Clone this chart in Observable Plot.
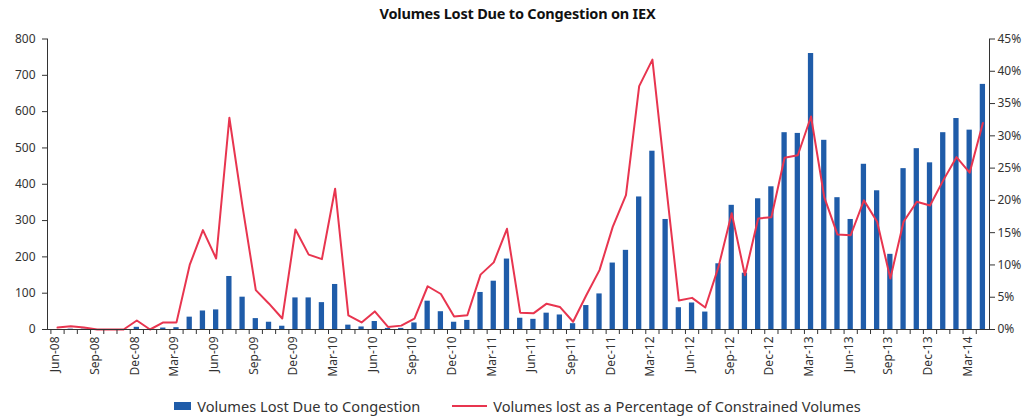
<!DOCTYPE html>
<html><head><meta charset="utf-8">
<script src="https://cdn.jsdelivr.net/npm/d3@7"></script>
<script src="https://cdn.jsdelivr.net/npm/@observablehq/plot@0.6"></script>
<style>
body{margin:0;background:#fff;font-family:"Noto Sans",sans-serif;}
#wrap{width:1035px;height:417px;position:relative;overflow:hidden;}
#title{height:26px;line-height:26px;text-align:center;font-weight:bold;font-size:14.5px;color:#111;letter-spacing:-0.2px;}
#legend{position:absolute;top:396px;left:0;width:1035px;display:flex;justify-content:center;align-items:center;font-size:14.6px;color:#333;white-space:nowrap;}
.sw{display:inline-block;margin-right:6px;}
</style></head>
<body>
<div id="wrap">
<div id="title">Volumes Lost Due to Congestion on IEX</div>
<div id="chart"></div>
<div id="legend">
<span class="sw" style="width:17px;height:8px;background:#1f5ca9"></span><span>Volumes Lost Due to Congestion</span>
<span class="sw" style="width:35px;height:2px;background:#e8354f;margin-left:32px"></span><span>Volumes lost as a Percentage of Constrained Volumes</span>
</div>
</div>
<script>
const months = ["Jun-08","Jul-08","Aug-08","Sep-08","Oct-08","Nov-08","Dec-08",
"Jan-09","Feb-09","Mar-09","Apr-09","May-09","Jun-09","Jul-09","Aug-09","Sep-09","Oct-09","Nov-09","Dec-09",
"Jan-10","Feb-10","Mar-10","Apr-10","May-10","Jun-10","Jul-10","Aug-10","Sep-10","Oct-10","Nov-10","Dec-10",
"Jan-11","Feb-11","Mar-11","Apr-11","May-11","Jun-11","Jul-11","Aug-11","Sep-11","Oct-11","Nov-11","Dec-11",
"Jan-12","Feb-12","Mar-12","Apr-12","May-12","Jun-12","Jul-12","Aug-12","Sep-12","Oct-12","Nov-12","Dec-12",
"Jan-13","Feb-13","Mar-13","Apr-13","May-13","Jun-13","Jul-13","Aug-13","Sep-13","Oct-13","Nov-13","Dec-13",
"Jan-14","Feb-14","Mar-14","Apr-14"];
const volumes = [0,1,1,0,0,0,6,1,4,5,
34,51,54,146,89,30,20,9,87,87,
74,124,12,7,22,3,3,18,78,49,
20,25,102,133,194,31,28,45,40,16,
66,98,183,218,365,491,303,60,73,48,
181,342,155,360,393,542,540,760,521,363,
303,455,382,207,443,498,459,542,581,549,675];
const pctLost = [0.3,0.5,0.3,0,0,0,1.4,0,1.1,1.1,
10,15.4,11,32.8,19,6.1,4,1.7,15.5,11.6,
10.9,21.8,2.2,1.1,2.8,0.4,0.6,1.7,6.7,5.5,
2,2.2,8.5,10.4,15.6,2.6,2.5,4,3.5,1.2,
5.3,9.2,15.9,20.8,37.7,41.8,23,4.5,4.9,3.4,
9.7,18,8.4,17.2,17.4,26.6,27,33,20.5,14.7,
14.6,20,16.7,7.9,16.7,19.8,19.2,23.1,26.7,24.3,32];
const labelMonths = ["Jun-08","Sep-08","Dec-08","Mar-09","Jun-09","Sep-09","Dec-09","Mar-10","Jun-10","Sep-10","Dec-10","Mar-11","Jun-11","Sep-11","Dec-11","Mar-12","Jun-12","Sep-12","Dec-12","Mar-13","Jun-13","Sep-13","Dec-13","Mar-14"];
const leftTicks = [0,100,200,300,400,500,600,700,800];
const rightTicks = [0,5,10,15,20,25,30,35,40,45];
const leftMax = 800, rightMax = 45;

const rows = months.map((m,i)=>({month:m, volume:volumes[i], pct:pctLost[i]}));
const toLeft = p => p*leftMax/rightMax;

const W=1035, mL=47, mR=46, insetL=3.4;
const step = (W-mL-mR-insetL)/months.length;

const chart = Plot.plot({
  width: W, height: 362,
  marginTop: 12.5, marginLeft: mL, marginRight: mR, marginBottom: 59,
  style: {fontFamily: "Noto Sans", fontSize: "12px", color: "#333", background: "transparent"},
  x: {type: "band", domain: months, paddingInner: 0.6, paddingOuter: 0.3, insetLeft: insetL, round: false, axis: null, label: null},
  y: {domain: [0, leftMax], axis: null, label: null},
  marks: [
    Plot.barY(rows, {x: "month", y: "volume", fill: "#1f5ca9"}),
    Plot.line(rows, {x: "month", y: d => toLeft(d.pct), stroke: "#e8354f", strokeWidth: 2}),
    Plot.ruleY([0], {stroke: "#333", strokeWidth: 1.2}),
    Plot.frame({anchor: "left", stroke: "#333"}),
    Plot.frame({anchor: "right", stroke: "#333"}),
    Plot.axisY({anchor: "left", ticks: leftTicks, tickSize: 5, tickPadding: 7, label: null, stroke: "#333"}),
    Plot.axisY({anchor: "right", ticks: rightTicks.map(toLeft), tickFormat: d => Math.round(d*rightMax/leftMax) + "%", tickSize: 5, tickPadding: 3, label: null, stroke: "#333"}),
    Plot.axisX({ticks: months, tickSize: 5, tickFormat: () => "", dx: -step/2, label: null, stroke: "#333"}),
    Plot.axisX({ticks: labelMonths, tickSize: 0, tickRotate: -90, tickPadding: 7, dx: -2, label: null})
  ]
});
document.getElementById("chart").appendChild(chart);
</script>
</body></html>
